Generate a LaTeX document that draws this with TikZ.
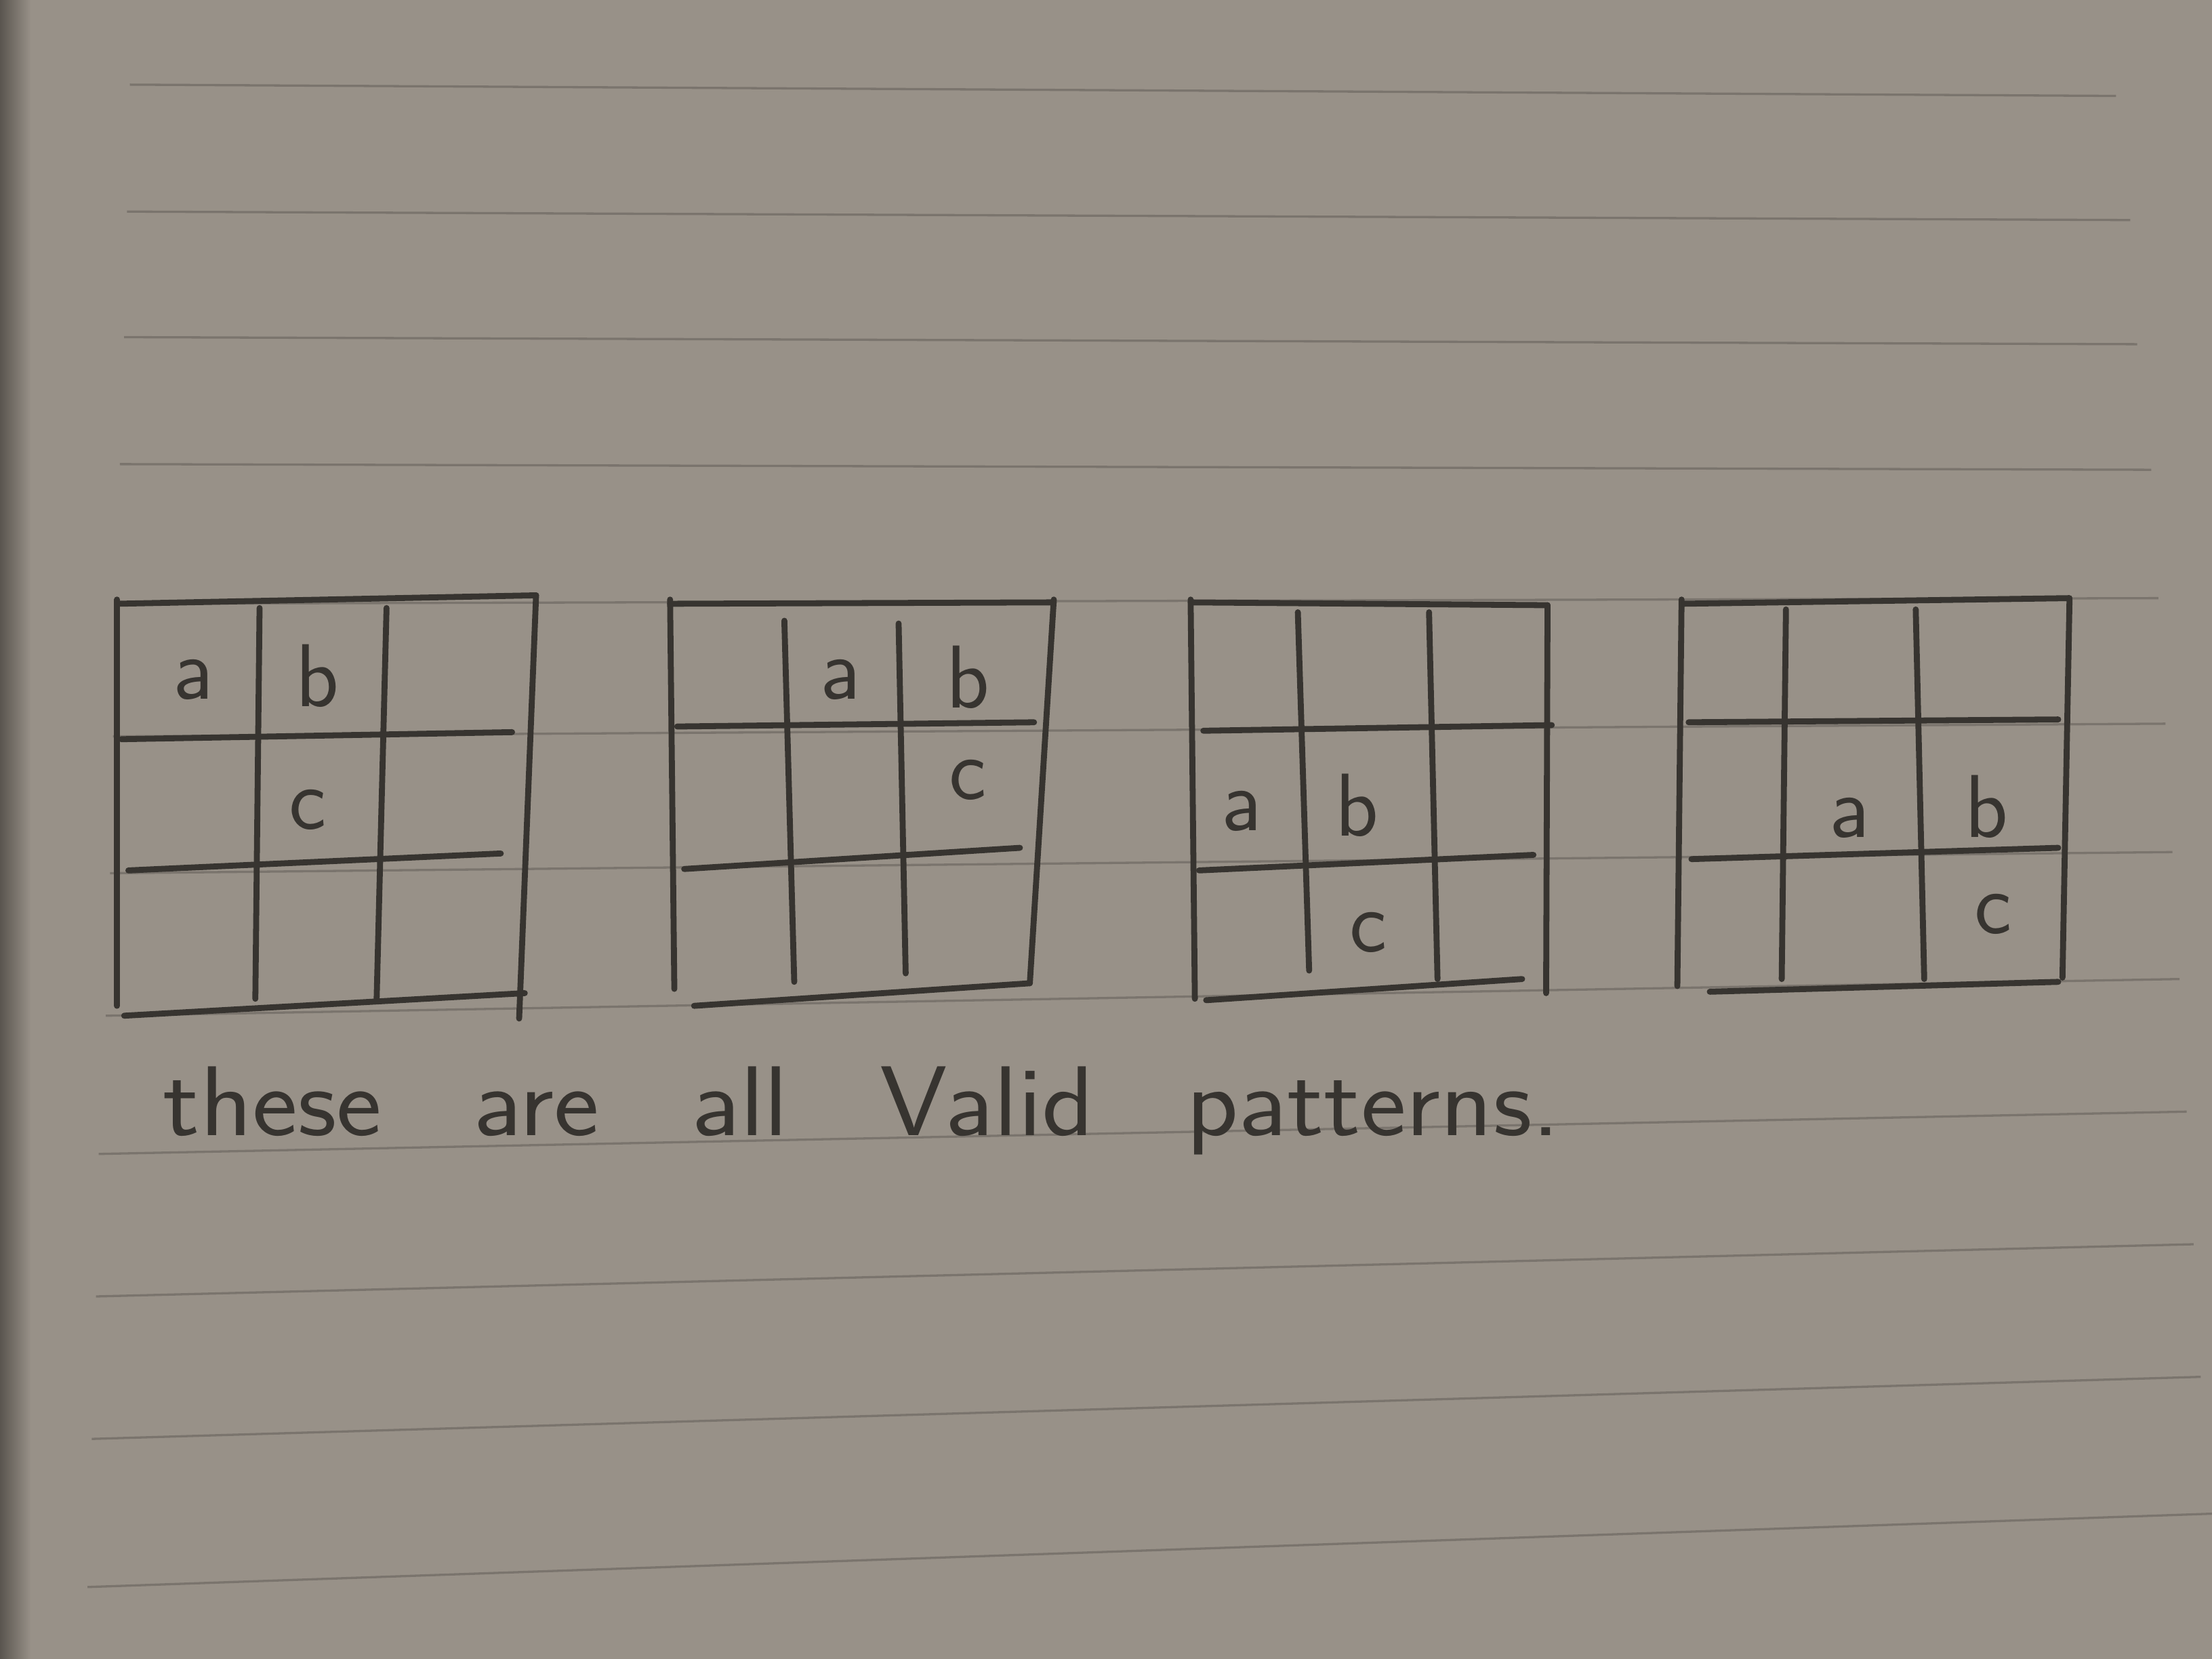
\documentclass[tikz,border=0pt]{standalone}
\usepackage{tikz}
\definecolor{paper}{RGB}{152,145,136}
\definecolor{paperedge}{RGB}{90,85,79}
\definecolor{ink}{RGB}{55,52,48}
\definecolor{ruling}{RGB}{122,116,109}
\tikzset{
	gridline/.style={line width=1.2pt, color=ink, line cap=round},
	ruleline/.style={line width=0.45pt, color=ruling},
	letter/.style={font=\sffamily\fontsize{18}{18}\selectfont, text=ink, inner sep=0pt},
}

\begin{document}
\begin{tikzpicture}[x=0.01cm, y=-0.01cm]
			%%%%% START %%%%%
			
			\fill[paper] (0,0) rectangle (1568,1176);
			\shade[left color=paperedge, right color=paper] (0,0) rectangle (22,1176);
			\useasboundingbox (0,0) rectangle (1568,1176);
			
			% ruled paper
			\draw[ruleline] (92,60) -- (1500,68);
			\draw[ruleline] (90,150) -- (1510,156);
			\draw[ruleline] (88,239) -- (1515,244);
			\draw[ruleline] (85,329) -- (1525,333);
			\draw[ruleline] (82,428) -- (1530,424);
			\draw[ruleline] (80,522) -- (1535,513);
			\draw[ruleline] (78,619) -- (1540,604);
			\draw[ruleline] (75,720) -- (1545,694);
			\draw[ruleline] (70,818) -- (1550,788);
			\draw[ruleline] (68,919) -- (1555,882);
			\draw[ruleline] (65,1020) -- (1560,976);
			\draw[ruleline] (62,1125) -- (1568,1073);
			
			% first pattern
			\draw[gridline] (83,425) -- (83,713);
			\draw[gridline] (380,422) -- (368,722);
			\draw[gridline] (83,428) -- (380,422);
			\draw[gridline] (88,720) -- (372,704);
			\draw[gridline] (184,431) -- (181,708);
			\draw[gridline] (274,431) -- (267,708);
			\draw[gridline] (86,524) -- (363,519);
			\draw[gridline] (91,617) -- (355,605);
			\node[letter] (a1) at (137,482) {a};
			\node[letter] (b1) at (225,479) {b};
			\node[letter] (c1) at (218,574) {c};
			
			% second pattern
			\draw[gridline] (475,425) -- (478,701);
			\draw[gridline] (747,425) -- (730,697);
			\draw[gridline] (475,428) -- (747,427);
			\draw[gridline] (492,713) -- (730,697);
			\draw[gridline] (556,440) -- (563,696);
			\draw[gridline] (637,442) -- (642,690);
			\draw[gridline] (480,515) -- (733,512);
			\draw[gridline] (485,616) -- (723,601);
			\node[letter] (a2) at (596,482) {a};
			\node[letter] (b2) at (686,480) {b};
			\node[letter] (c2) at (686,553) {c};
			
			% third pattern
			\draw[gridline] (844,425) -- (847,708);
			\draw[gridline] (1097,429) -- (1096,704);
			\draw[gridline] (844,427) -- (1097,429);
			\draw[gridline] (855,709) -- (1079,694);
			\draw[gridline] (920,434) -- (928,688);
			\draw[gridline] (1013,434) -- (1019,694);
			\draw[gridline] (853,518) -- (1100,514);
			\draw[gridline] (850,617) -- (1087,606);
			\node[letter] (a3) at (880,575) {a};
			\node[letter] (b3) at (962,571) {b};
			\node[letter] (c3) at (970,661) {c};
			
			% fourth pattern
			\draw[gridline] (1192,425) -- (1189,699);
			\draw[gridline] (1467,425) -- (1462,693);
			\draw[gridline] (1192,428) -- (1467,424);
			\draw[gridline] (1212,703) -- (1459,696);
			\draw[gridline] (1266,432) -- (1263,694);
			\draw[gridline] (1358,432) -- (1364,694);
			\draw[gridline] (1197,512) -- (1459,510);
			\draw[gridline] (1199,609) -- (1459,601);
			\node[letter] (a4) at (1311,580) {a};
			\node[letter] (b4) at (1408,572) {b};
			\node[letter] (c4) at (1413,648) {c};
			
			\node[letter, font=\sffamily\fontsize{20}{20}\selectfont, anchor=base west] (caption) at (115,805) {\scalebox{1.09}[1]{\spaceskip=0.85em\relax these are all Valid patterns.}};
			
			%%%%% END %%%%%
\end{tikzpicture}
\end{document}
